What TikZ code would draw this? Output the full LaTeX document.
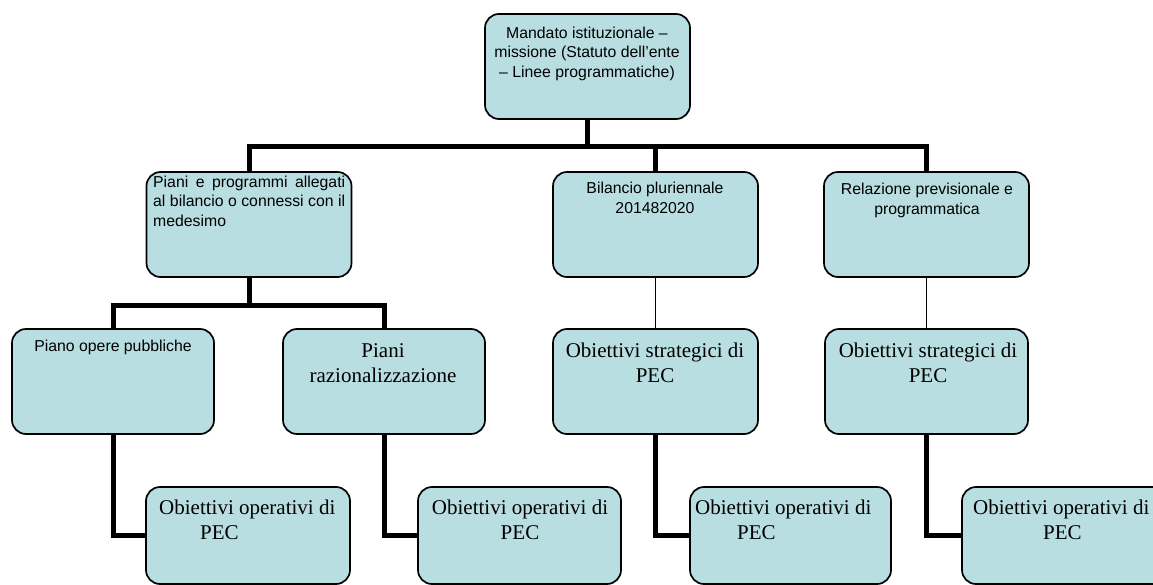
\documentclass[tikz,border=0pt]{standalone}
\usepackage{fontspec}
\setmainfont{Liberation Serif}
\newfontfamily\arialf{Liberation Sans}
\usetikzlibrary{backgrounds}
\definecolor{boxfill}{RGB}{185,222,226}
\begin{document}
\begin{tikzpicture}[x=1pt,y=-1pt,
  box/.style={draw=black, line width=1.7pt, fill=boxfill, rounded corners=14pt,
    minimum width=205pt, minimum height=105pt, inner sep=0pt},
  busline/.style={line width=5pt},
  thinline/.style={line width=1pt},
  atxt/.style={inner sep=0pt, font=\arialf\fontsize{15.8}{19.5}\selectfont, align=center},
  stxt/.style={inner sep=0pt, font=\fontsize{21}{25}\selectfont, align=center}]
\useasboundingbox (0,0) rectangle (1153,585);
\clip (0,0) rectangle (1153,585);

\coordinate (bus) at (0,147);
\coordinate (sub) at (0,305);

% boxes
\path
  node[box] (top) at (587.5,66.5) {}
  node[box] (pp)  at (249,224.5) {}
  node[box] (bil) at (655.5,224.5) {}
  node[box] (rel) at (926.5,224.5) {}
  node[box, minimum width=202pt] (po)  at (113,381.5) {}
  node[box, minimum width=202pt] (pr)  at (384,381.5) {}
  node[box] (os1) at (655.5,381.5) {}
  node[box, minimum width=203pt] (os2) at (926.5,381.5) {}
  node[box, minimum width=204pt, minimum height=97pt] (oo1) at (248,535.5) {}
  node[box, minimum width=203pt, minimum height=97pt] (oo2) at (519.5,535.5) {}
  node[box, minimum width=201pt, minimum height=97pt] (oo3) at (790.5,535.5) {}
  node[box, minimum width=204pt, minimum height=97pt] (oo4) at (1064,535.5) {};

% connectors behind the boxes
\begin{scope}[on background layer]
  \draw[busline] (top.south) -- (top.south |- bus);
  \draw[busline] (pp.north) |- (rel.north |- bus) -- (rel.north);
  \draw[busline] (bil.north) -- (bil.north |- bus);
  \draw[busline] (pp.south) -- (pp.south |- sub);
  \draw[busline] (po.north) |- (pr.north |- sub) -- (pr.north);
  \draw[thinline] (bil.south) -- (os1.north);
  \draw[thinline] (rel.south) -- (os2.north);
  \draw[busline] (po.south) |- (oo1.west);
  \draw[busline] (pr.south) |- (oo2.west);
  \draw[busline] (os1.south) |- (oo3.west);
  \draw[busline] (os2.south) |- (oo4.west);
\end{scope}

% texts
\node[atxt, anchor=north] (ttop) at (587,24.4)
  {\strut Mandato istituzionale –\\missione (Statuto dell’ente\\– Linee programmatiche)};
\node[atxt, anchor=north west, text width=192pt, align=justify] (tpp) at (153,173.4)
  {\strut Piani e programmi allegati\linebreak al bilancio o connessi con il\linebreak medesimo};
\node[atxt, anchor=north] (tbil) at (655,179.9)
  {\strut Bilancio pluriennale\\201482020};
\node[atxt, anchor=north] (trel) at (927,180.9)
  {\strut Relazione previsionale e\\programmatica};
\node[atxt, anchor=north] (tpo) at (113,337.9)
  {\strut Piano opere pubbliche};
\node[stxt, anchor=north] (tpr) at (383,339.5)
  {\strut Piani\\razionalizzazione};
\node[stxt, anchor=north] (tos1) at (655,339.5)
  {\strut Obiettivi strategici di\\PEC};
\node[stxt, anchor=north] (tos2) at (928,339.5)
  {\strut Obiettivi strategici di\\PEC};
\node[stxt, anchor=north west, align=left] (too1) at (159,496.5)
  {\strut Obiettivi operativi di\\\hspace*{41pt}PEC};
\node[stxt, anchor=north] (too2) at (520,496.5)
  {\strut Obiettivi operativi di\\PEC};
\node[stxt, anchor=north west, align=left] (too3) at (695,496.5)
  {\strut Obiettivi operativi di\\\hspace*{42pt}PEC};
\node[stxt, anchor=north west, align=left] (too4) at (973,496.5)
  {\strut Obiettivi operativi di\\\hspace*{70pt}PEC};
\end{tikzpicture}
\end{document}
